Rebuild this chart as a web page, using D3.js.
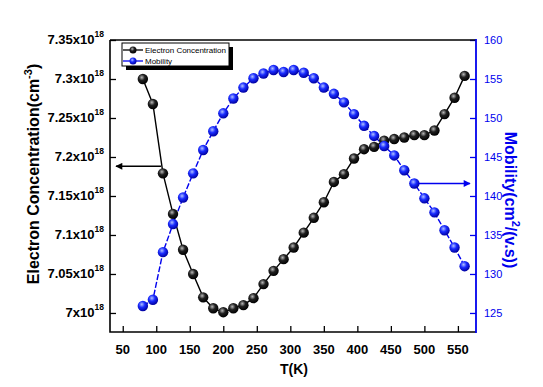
<!DOCTYPE html>
<html>
<head>
<meta charset="utf-8">
<script src="https://cdn.jsdelivr.net/npm/d3@7/dist/d3.min.js"></script>
<style>
	body { margin: 0; background: #fff; }
	svg { font-family: 'Liberation Sans', Arial, sans-serif; }
</style>
</head>
<body>
<svg id="chart" width="543" height="387"></svg>
<script>
// temperature (K)
const temps = [80, 95, 110, 125, 140, 155, 170, 185, 200, 215, 230, 245, 260, 275, 290, 305, 320,
	335, 350, 365, 380, 395, 410, 425, 440, 455, 470, 485, 500, 515, 530, 545, 560];

// electron concentration, x10^18 cm^-3
const concentration = [7.300, 7.268, 7.179, 7.127, 7.081, 7.050, 7.020, 7.006, 7.001, 7.006, 7.010,
	7.019, 7.037, 7.054, 7.069, 7.084, 7.103, 7.122, 7.142, 7.168, 7.178, 7.198, 7.210, 7.213,
	7.221, 7.223, 7.225, 7.228, 7.228, 7.234, 7.255, 7.276, 7.304];

// mobility, cm^2/(v.s)
const mobility = [125.9, 126.7, 132.8, 136.4, 139.8, 142.9, 145.9, 148.3, 150.6, 152.5, 153.9,
	155.1, 155.7, 156.15, 155.9, 156.15, 155.8, 155.1, 153.9, 153.1, 152.0, 150.5, 149.0, 147.7,
	146.4, 145.2, 143.3, 141.6, 139.7, 137.9, 135.6, 133.4, 131.0];

const xTicks = [50, 100, 150, 200, 250, 300, 350, 400, 450, 500, 550];
const concTicks = [7.0, 7.05, 7.1, 7.15, 7.2, 7.25, 7.3, 7.35];
const mobTicks = [125, 130, 135, 140, 145, 150, 155, 160];

const BLUE = '#0000ee';
const mLeft = 110;
const mRight = 476;
const mTop = 40;
const mBottom = 332;
const R = 5.2;

const svg = d3.select('#chart');

const x = d3.scaleLinear().domain([31, 577]).range([mLeft, mRight]);
const yC = d3.scaleLinear().domain([6.9756, 7.35]).range([mBottom, mTop]);
const yM = d3.scaleLinear().domain([122.56, 160]).range([mBottom, mTop]);

// ball gradients
const defs = svg.append('defs');
function ball(id, light, mid, dark) {
	const g = defs.append('radialGradient')
		.attr('id', id)
		.attr('cx', '40%').attr('cy', '35%').attr('r', '65%');
	g.append('stop').attr('offset', '0%').attr('stop-color', light);
	g.append('stop').attr('offset', '45%').attr('stop-color', mid);
	g.append('stop').attr('offset', '100%').attr('stop-color', dark);
}
ball('ballBlack', '#b8b8b8', '#202020', '#000');
ball('ballBlue', '#b0c0ff', '#1a2cff', '#0000a0');

function arrowHead(id, col) {
	defs.append('marker')
		.attr('id', id)
		.attr('viewBox', '0 0 10 10')
		.attr('refX', 9).attr('refY', 5)
		.attr('markerWidth', 11).attr('markerHeight', 7)
		.attr('markerUnits', 'userSpaceOnUse')
		.attr('orient', 'auto')
		.append('path').attr('d', 'M0,0L10,5L0,10Z').attr('fill', col);
}
arrowHead('headBlack', '#000');
arrowHead('headBlue', BLUE);

// axes
function minorTicks(lo, hi, step) {
	const out = [];
	for (let v = lo; v <= hi + 1e-9; v += step) out.push(+v.toFixed(4));
	return out;
}

const gx = svg.append('g').attr('transform', `translate(0,${mBottom})`);
gx.call(d3.axisTop(x).tickValues(minorTicks(25, 575, 25).filter(v => v > 31)).tickSize(3).tickFormat(''));
gx.call(d3.axisTop(x).tickValues(xTicks).tickSize(6).tickFormat(''));
gx.selectAll('path').remove();
gx.selectAll('line').attr('stroke', '#000').attr('stroke-width', 1.3);
svg.append('g').selectAll('text').data(xTicks).join('text')
	.attr('x', d => x(d)).attr('y', 354)
	.attr('text-anchor', 'middle')
	.attr('font-size', 13).attr('font-weight', 'bold')
	.text(d => d);

const gl = svg.append('g').attr('transform', `translate(${mLeft},0)`);
gl.call(d3.axisRight(yC).tickValues(minorTicks(6.975, 7.35, 0.025).filter(v => v > 6.976)).tickSize(3).tickFormat(''));
gl.call(d3.axisRight(yC).tickValues(concTicks).tickSize(6).tickFormat(''));
gl.selectAll('path').remove();
gl.selectAll('line').attr('stroke', '#000').attr('stroke-width', 1.3);
const lt = svg.append('g').selectAll('text').data(concTicks).join('text')
	.attr('x', 104).attr('y', d => yC(d) + 4)
	.attr('text-anchor', 'end')
	.attr('font-size', 13).attr('font-weight', 'bold');
lt.append('tspan').text(d => `${d}x10`);
lt.append('tspan').attr('dy', -7).attr('font-size', 8.5).text('18');

const gr = svg.append('g').attr('transform', `translate(${mRight},0)`);
gr.call(d3.axisLeft(yM).tickValues(minorTicks(122.5, 160, 2.5).filter(v => v > 122.6)).tickSize(3).tickFormat(''));
gr.call(d3.axisLeft(yM).tickValues(mobTicks).tickSize(6).tickFormat(''));
gr.selectAll('path').remove();
gr.selectAll('line').attr('stroke', BLUE).attr('stroke-width', 1.3);
svg.append('g').selectAll('text').data(mobTicks).join('text')
	.attr('x', 484).attr('y', d => yM(d) + 4)
	.attr('font-size', 11).attr('fill', BLUE)
	.text(d => d);

// frame
svg.append('path').attr('d', `M${mLeft},${mTop}H${mRight}`).attr('stroke', '#000').attr('stroke-width', 1.6).attr('fill', 'none');
svg.append('path').attr('d', `M${mLeft},${mTop}V${mBottom}H${mRight}`).attr('stroke', '#000').attr('stroke-width', 1.6).attr('fill', 'none');
svg.append('path').attr('d', `M${mRight},${mTop - 1}V${mBottom + 1}`).attr('stroke', BLUE).attr('stroke-width', 1.8).attr('fill', 'none');

// series
const rows = temps.map((t, i) => ({ t, c: concentration[i], m: mobility[i] }));

svg.append('path').datum(rows)
	.attr('fill', 'none').attr('stroke', '#000').attr('stroke-width', 1.4)
	.attr('d', d3.line().x(d => x(d.t)).y(d => yC(d.c)));
svg.append('path').datum(rows)
	.attr('fill', 'none').attr('stroke', BLUE).attr('stroke-width', 1.4)
	.attr('stroke-dasharray', '6,2')
	.attr('d', d3.line().x(d => x(d.t)).y(d => yM(d.m)));

svg.append('g').selectAll('circle').data(rows).join('circle')
	.attr('cx', d => x(d.t)).attr('cy', d => yC(d.c)).attr('r', R)
	.attr('fill', 'url(#ballBlack)');
svg.append('g').selectAll('circle').data(rows).join('circle')
	.attr('cx', d => x(d.t)).attr('cy', d => yM(d.m)).attr('r', R)
	.attr('fill', 'url(#ballBlue)');

// arrows pointing to axes
const arrowC = rows.find(d => d.t === 110);
svg.append('line')
	.attr('x1', x(arrowC.t) - 2).attr('y1', yC(7.188))
	.attr('x2', mLeft + 6).attr('y2', yC(7.188))
	.attr('stroke', '#000').attr('stroke-width', 1.5)
	.attr('marker-end', 'url(#headBlack)');
const arrowM = rows.find(d => d.t === 485);
svg.append('line')
	.attr('x1', x(arrowM.t) + 4).attr('y1', yM(arrowM.m))
	.attr('x2', mRight - 6).attr('y2', yM(arrowM.m))
	.attr('stroke', BLUE).attr('stroke-width', 1.5)
	.attr('marker-end', 'url(#headBlue)');

// legend
const lg = svg.append('g').attr('transform', 'translate(122,43)');
lg.append('rect').attr('x', 4).attr('y', 4).attr('width', 107).attr('height', 23).attr('fill', '#000');
lg.append('rect').attr('width', 107).attr('height', 23).attr('fill', '#fff').attr('stroke', '#000').attr('stroke-width', 1);
[['Electron Concentration', '#000', 'ballBlack', 7], ['Mobility', BLUE, 'ballBlue', 18]].forEach(([label, col, grad, ly]) => {
	lg.append('line').attr('x1', 1).attr('x2', 21).attr('y1', ly).attr('y2', ly).attr('stroke', col).attr('stroke-width', 1.3);
	lg.append('circle').attr('cx', 11).attr('cy', ly).attr('r', 3.5).attr('fill', `url(#${grad})`);
	lg.append('text').attr('x', 23).attr('y', ly + 3).attr('font-size', 8)
		.attr('textLength', label.length > 10 ? 81 : null)
		.text(label);
});

// axis titles
svg.append('text')
	.attr('transform', 'translate(39,174) rotate(-90)')
	.attr('text-anchor', 'middle')
	.attr('font-size', 16).attr('font-weight', 'bold')
	.call(t => {
		t.append('tspan').text('Electron Concentration(cm');
		t.append('tspan').attr('dy', -7).attr('font-size', 11).text('-3');
		t.append('tspan').attr('dy', 7).text(')');
	});

svg.append('text')
	.attr('transform', 'translate(505,200) rotate(90)')
	.attr('text-anchor', 'middle')
	.attr('font-size', 16).attr('font-weight', 'bold').attr('fill', BLUE)
	.call(t => {
		t.append('tspan').text('Mobility(cm');
		t.append('tspan').attr('dy', -7).attr('font-size', 11).text('2');
		t.append('tspan').attr('dy', 7).text('/(v.s))');
	});

svg.append('text')
	.attr('x', 294).attr('y', 374)
	.attr('text-anchor', 'middle')
	.attr('font-size', 14).attr('font-weight', 'bold')
	.text('T(K)');
</script>
</body>
</html>
